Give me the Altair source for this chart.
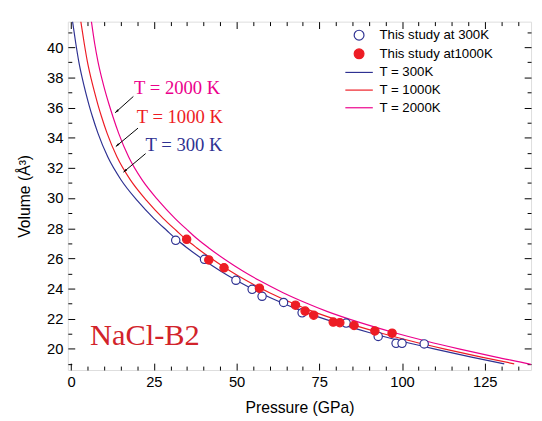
import altair as alt
import pandas as pd

# ---------------- data ----------------
# measured points (Pressure GPa, Volume A^3)
p_300 = [31.6, 40.3, 49.8, 54.7, 57.7, 64.2, 69.8, 83.1, 92.8, 98.2, 100.0, 106.7]
v_300 = [27.20, 25.94, 24.55, 23.95, 23.49, 23.08, 22.39, 21.71, 20.83, 20.37, 20.37, 20.33]
p_1000 = [34.9, 41.6, 46.2, 56.9, 67.8, 70.7, 73.3, 79.2, 81.2, 85.5, 91.8, 97.0]
v_1000 = [27.27, 25.90, 25.38, 24.03, 22.90, 22.51, 22.24, 21.78, 21.74, 21.56, 21.19, 21.04]

# EOS curves
cp_300 = [0.4, 1.4, 2.3, 3.4, 4.46, 5.4, 6.42, 8.11, 11.08, 15.04, 20.0, 24.96, 28.9, 31.9,
          35.0, 40.0, 45.0, 50.0, 57.0, 64.0, 70.0, 80.0, 90.0, 100.0, 110.0, 121.0, 130.9]
cv_300 = [41.73, 40.25, 39.05, 37.90, 36.94, 36.17, 35.41, 34.29, 32.72, 31.22, 29.83, 28.66, 27.85, 27.25,
          26.71, 25.91, 25.18, 24.53, 23.73, 23.03, 22.49, 21.74, 21.09, 20.51, 19.99, 19.46, 19.01]
cp_1000 = [2.9, 3.95, 4.9, 6.05, 7.16, 8.12, 9.16, 10.87, 13.86, 17.84, 22.82, 27.8, 31.76, 34.78,
           37.9, 42.92, 47.94, 52.95, 59.96, 66.97, 72.98, 83.0, 93.0, 103.0, 113.0, 124.0, 133.9]
cv_1000 = [41.73, 40.25, 39.05, 37.90, 36.94, 36.17, 35.41, 34.29, 32.72, 31.22, 29.83, 28.66, 27.85, 27.25,
           26.71, 25.91, 25.18, 24.53, 23.73, 23.03, 22.49, 21.74, 21.09, 20.51, 19.99, 19.46, 19.01]
cp_2000 = [6.1, 7.1, 8.1, 9.3, 10.46, 11.5, 12.6, 14.36, 17.38, 21.39, 26.4, 31.36, 35.3, 38.35,
           41.5, 46.6, 51.75, 56.9, 64.05, 71.2, 77.3, 87.4, 97.45, 107.5, 117.5, 128.45, 138.3, 139.5]
cv_2000 = [41.73, 40.25, 39.05, 37.90, 36.94, 36.17, 35.41, 34.29, 32.72, 31.22, 29.83, 28.66, 27.85, 27.25,
           26.71, 25.91, 25.18, 24.53, 23.73, 23.03, 22.49, 21.74, 21.09, 20.51, 19.99, 19.46, 19.01, 18.95]

series = ["This study at 300K", "This study at1000K", "T = 300K", "T = 1000K", "T = 2000K"]
series_stroke = ["#2e3192", "#ed1c24", "#2e3192", "#ed1c24", "#ec008c"]
series_fill = ["white", "#ed1c24", "transparent", "transparent", "transparent"]
series_shape = ["circle", "circle", "M-2.8,0H2.8", "M-2.8,0H2.8", "M-2.8,0H2.8"]

# annotations
label_text = ["T = 2000 K", "T = 1000 K", "T = 300 K"]
label_color = ["#ec008c", "#ed1c24", "#2e3192"]
label_p = [19.0, 19.8, 22.5]
label_v = [36.92, 34.96, 33.11]
arrow_p0 = [18.8, 20.2, 22.5]
arrow_v0 = [36.74, 34.64, 32.95]
arrow_p1 = [13.3, 13.5, 15.8]
arrow_v1 = [35.66, 33.42, 31.72]

x_major = [0, 25, 50, 75, 100, 125]
x_minor = list(range(0, 140, 5))
y_major = [20, 22, 24, 26, 28, 30, 32, 34, 36, 38, 40]
y_minor = list(range(19, 42, 1))
x_dom = [-1, 139]
y_dom = [18.6, 41.7]

W, H = 472, 355

# ---------------- frames ----------------
pts = pd.DataFrame({
    "P": p_300 + p_1000,
    "V": v_300 + v_1000,
    "series": [series[0]] * len(p_300) + [series[1]] * len(p_1000),
})
curves = pd.DataFrame({
    "P": cp_300 + cp_1000 + cp_2000,
    "V": cv_300 + cv_1000 + cv_2000,
    "series": [series[2]] * len(cp_300) + [series[3]] * len(cp_1000) + [series[4]] * len(cp_2000),
})
labels = pd.DataFrame({"text": label_text, "color": label_color, "P": label_p, "V": label_v})
arrows = pd.DataFrame({"P0": arrow_p0, "V0": arrow_v0, "P1": arrow_p1, "V1": arrow_v1})
frame = pd.DataFrame({"P": x_dom, "V": y_dom})

xs = alt.Scale(domain=x_dom, nice=False, zero=False)
ys = alt.Scale(domain=y_dom, nice=False, zero=False)

stroke_scale = alt.Scale(domain=series, range=series_stroke)
fill_scale = alt.Scale(domain=series, range=series_fill)
shape_scale = alt.Scale(domain=series, range=series_shape)

legend = alt.Legend(title=None, orient="none", legendX=290, legendY=7,
                    labelFont="Liberation Sans", labelFontSize=13.5, labelColor="black",
                    labelOffset=14, rowPadding=3, symbolSize=100, symbolStrokeWidth=1.2,
                    padding=0, labelLimit=300)

xq = alt.X("P:Q", scale=xs, axis=None)
yq = alt.Y("V:Q", scale=ys, axis=None)

lines = alt.Chart(curves).mark_line(strokeWidth=1.2, clip=True, interpolate="monotone").encode(
    x=xq, y=yq,
    stroke=alt.Stroke("series:N", scale=stroke_scale, legend=legend),
    order="P:Q",
)

points = alt.Chart(pts).mark_point(filled=True, size=72, strokeWidth=1.2, opacity=1).encode(
    x=xq, y=yq,
    stroke=alt.Stroke("series:N", scale=stroke_scale, legend=legend),
    fill=alt.Fill("series:N", scale=fill_scale, legend=legend),
    shape=alt.Shape("series:N", scale=shape_scale, legend=legend),
)

texts = alt.Chart(labels).mark_text(align="left", baseline="alphabetic", font="Liberation Serif",
                                     fontSize=19).encode(
    x=xq, y=yq, text="text:N", color=alt.Color("color:N", scale=None))

arrow_lines = alt.Chart(arrows).mark_rule(color="black", strokeWidth=1).encode(
    x=alt.X("P0:Q", scale=xs, axis=None), y=alt.Y("V0:Q", scale=ys, axis=None), x2="P1:Q", y2="V1:Q")
arrow_heads = alt.Chart(arrows).mark_point(shape="M0,0L0.55,2L-0.55,2Z", filled=True, color="black",
                                           size=16, angle=229, opacity=1).encode(
    x=alt.X("P1:Q", scale=xs, axis=None), y=alt.Y("V1:Q", scale=ys, axis=None))

nacl = alt.Chart(pd.DataFrame({"text": ["NaCl-B2"], "P": [5.7], "V": [20.26]})).mark_text(
    align="left", baseline="alphabetic", font="Liberation Serif", fontSize=31, color="#d2232a").encode(
    x=xq, y=yq, text="text:N")

main = alt.layer(lines, points, arrow_lines, arrow_heads, texts, nacl)

# axis with labels and titles (no ticks)
label_layer = alt.Chart(frame).mark_point(opacity=0).encode(
    x=alt.X("P:Q", scale=xs, axis=alt.Axis(
        orient="bottom", values=x_major, ticks=False, domain=False, grid=False,
        title="Pressure (GPa)", labelOverlap=False,
        labelFont="Liberation Sans", labelFontSize=15, labelPadding=5, labelColor="black",
        titleFont="Liberation Sans", titleFontSize=16, titleFontWeight="normal", titlePadding=10,
        titleColor="black")),
    y=alt.Y("V:Q", scale=ys, axis=alt.Axis(
        orient="left", values=y_major, ticks=False, domain=False, grid=False,
        title="Volume (Å³)", labelOverlap=False,
        labelFont="Liberation Sans", labelFontSize=15, labelPadding=5, labelColor="black",
        titleFont="Liberation Sans", titleFontSize=16, titleFontWeight="normal", titlePadding=14,
        titleColor="black")),
)


def tick_layer(x_orient, y_orient):
    return alt.Chart(frame).mark_point(opacity=0).encode(
        x=alt.X("P:Q", scale=xs, axis=alt.Axis(
            orient=x_orient, offset=-H, values=x_minor, labels=False, domain=False, grid=False,
            title=None, tickColor="black", tickWidth=1,
            tickSize={"condition": {"test": "datum.value % 25 === 0", "value": 7}, "value": 4})),
        y=alt.Y("V:Q", scale=ys, axis=alt.Axis(
            orient=y_orient, offset=-W, values=y_minor, labels=False, domain=False, grid=False,
            title=None, tickColor="black", tickWidth=1,
            tickSize={"condition": {"test": "datum.value % 2 === 0", "value": 7}, "value": 4})),
    )


chart = alt.layer(main, label_layer, tick_layer("top", "right"), tick_layer("bottom", "left")).resolve_scale(
    x="independent", y="independent"
).properties(
    width=W, height=H,
    padding={"left": 9, "top": 7, "right": 0, "bottom": 0},
).configure_view(stroke="black", strokeWidth=1).configure(background="white")

chart.save("out.html", embed_options={"renderer": "svg", "actions": False})
